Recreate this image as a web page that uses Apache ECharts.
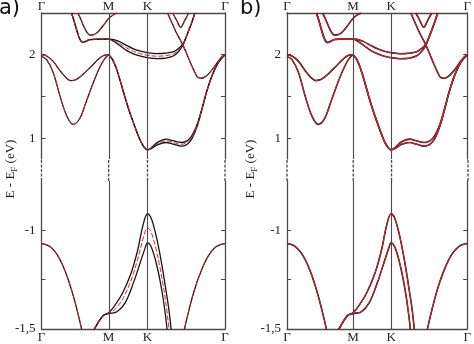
<!DOCTYPE html>
<html><head><meta charset="utf-8">
<script src="https://cdn.jsdelivr.net/npm/echarts@6/dist/echarts.min.js"></script>
<style>html,body{margin:0;padding:0;background:#fff}#c{width:474px;height:344px}</style>
</head><body><div id="c"></div>
<script>
// k-path positions and labels
const kTicks = [0, 0.577, 0.911, 1.577];
const kLabels = ['Γ', 'M', 'K', 'Γ'];
// energy ticks
const yTicksTop = [1, 1.5, 2, 2.5];
const yLabelsTop = [1, 2];
const yTicksBot = [-1.5, -1.25, -1];
const yLabelsBot = [-1.5, -1];

// ---- conduction bands (upper segment) [k, E] ----
const bandA = [[0,2.0],[0.044,1.985],[0.101,1.92],[0.158,1.81],[0.215,1.72],[0.252,1.69],[0.301,1.705],[0.357,1.765],[0.429,1.862],[0.5,1.96],[0.543,1.995],[0.577,2.0]];
const bandB = [[0,1.98],[0.044,1.941],[0.101,1.785],[0.158,1.509],[0.215,1.274],[0.272,1.165],[0.329,1.235],[0.381,1.424],[0.44,1.647],[0.5,1.847],[0.543,1.953],[0.577,2.0]];
const bowlMid = [[0.577,2.0],[0.611,1.941],[0.646,1.824],[0.68,1.671],[0.714,1.506],[0.748,1.353],[0.783,1.212],[0.817,1.082],[0.851,0.965],[0.881,0.894],[0.911,0.859],[0.943,0.879],[1.0,0.938],[1.073,0.968],[1.13,0.949],[1.202,0.926],[1.274,0.976],[1.332,1.133],[1.375,1.329],[1.421,1.565],[1.473,1.776],[1.525,1.918],[1.577,2.0]];
const bowlUp = [[0.577,2.0],[0.611,1.941],[0.646,1.824],[0.68,1.671],[0.714,1.506],[0.748,1.353],[0.783,1.212],[0.817,1.082],[0.851,0.965],[0.881,0.894],[0.911,0.859],[0.943,0.884],[1.0,0.953],[1.073,0.988],[1.13,0.969],[1.202,0.948],[1.274,0.996],[1.332,1.145],[1.375,1.334],[1.421,1.565],[1.473,1.776],[1.525,1.918],[1.577,2.0]];
const bowlLo = [[0.577,2.0],[0.611,1.941],[0.646,1.824],[0.68,1.671],[0.714,1.506],[0.748,1.353],[0.783,1.212],[0.817,1.082],[0.851,0.965],[0.881,0.894],[0.911,0.859],[0.943,0.874],[1.0,0.923],[1.073,0.948],[1.13,0.929],[1.202,0.904],[1.274,0.956],[1.332,1.121],[1.375,1.324],[1.421,1.565],[1.473,1.776],[1.525,1.918],[1.577,2.0]];
const flatMid = [[0.258,2.5],[0.278,2.412],[0.303,2.294],[0.329,2.188],[0.355,2.147],[0.38,2.159],[0.415,2.182],[0.5,2.188],[0.577,2.188],[0.611,2.176],[0.671,2.135],[0.731,2.082],[0.791,2.041],[0.851,2.012],[0.911,1.994],[0.989,1.982],[1.067,1.988],[1.136,2.012],[1.179,2.059],[1.214,2.118],[1.24,2.2],[1.266,2.294],[1.292,2.388],[1.318,2.5]];
const flatUp = [[0.258,2.5],[0.278,2.412],[0.303,2.294],[0.329,2.188],[0.355,2.147],[0.38,2.159],[0.415,2.182],[0.5,2.188],[0.577,2.188],[0.611,2.184],[0.671,2.157],[0.731,2.112],[0.791,2.071],[0.851,2.042],[0.911,2.024],[0.989,2.012],[1.067,2.018],[1.136,2.037],[1.179,2.076],[1.214,2.126],[1.24,2.2],[1.266,2.294],[1.292,2.388],[1.318,2.5]];
const flatLo = [[0.258,2.5],[0.278,2.412],[0.303,2.294],[0.329,2.188],[0.355,2.147],[0.38,2.159],[0.415,2.182],[0.5,2.188],[0.577,2.188],[0.611,2.168],[0.671,2.113],[0.731,2.052],[0.791,2.011],[0.851,1.982],[0.911,1.964],[0.989,1.952],[1.067,1.958],[1.136,1.987],[1.179,2.042],[1.214,2.11],[1.24,2.2],[1.266,2.294],[1.292,2.388],[1.318,2.5]];
const bandP2 = [[0.312,2.498],[0.338,2.424],[0.363,2.341],[0.389,2.271],[0.415,2.235],[0.449,2.241],[0.483,2.271],[0.526,2.341],[0.577,2.435],[0.603,2.465],[0.646,2.5]];
const bandC = [[1.084,2.5],[1.119,2.388],[1.153,2.282],[1.188,2.188],[1.214,2.118],[1.248,2.012],[1.283,1.894],[1.318,1.788],[1.343,1.729],[1.378,1.718],[1.413,1.741],[1.447,1.788],[1.482,1.847],[1.517,1.918],[1.551,1.976],[1.577,2.0]];
const bandV = [[1.127,2.5],[1.162,2.412],[1.196,2.329],[1.231,2.412],[1.266,2.5]];

// ---- valence bands (lower segment) ----
const valGL = [[0,-1.067],[0.038,-1.072],[0.073,-1.082],[0.115,-1.107],[0.158,-1.147],[0.201,-1.203],[0.243,-1.273],[0.286,-1.359],[0.329,-1.46],[0.346,-1.505]];
const valGR = [[1.577,-1.067],[1.538,-1.072],[1.503,-1.082],[1.46,-1.107],[1.417,-1.147],[1.374,-1.203],[1.33,-1.273],[1.287,-1.359],[1.244,-1.46],[1.227,-1.505]];
const valKUp = [[0.449,-1.505],[0.474,-1.48],[0.5,-1.455],[0.534,-1.43],[0.577,-1.418],[0.628,-1.383],[0.699,-1.315],[0.771,-1.215],[0.828,-1.097],[0.87,-0.98],[0.911,-0.916],[0.937,-0.931],[0.963,-0.976],[0.989,-1.037],[1.015,-1.112],[1.041,-1.198],[1.067,-1.294],[1.093,-1.394],[1.115,-1.505]];
const valKLo = [[0.449,-1.505],[0.474,-1.48],[0.5,-1.455],[0.534,-1.43],[0.577,-1.422],[0.649,-1.413],[0.72,-1.366],[0.791,-1.265],[0.848,-1.164],[0.891,-1.089],[0.911,-1.063],[0.937,-1.077],[0.963,-1.117],[0.989,-1.173],[1.015,-1.243],[1.041,-1.329],[1.063,-1.419],[1.08,-1.505]];
const valKMid = [[0.449,-1.505],[0.474,-1.48],[0.5,-1.455],[0.534,-1.43],[0.577,-1.42],[0.636,-1.398],[0.705,-1.34],[0.778,-1.24],[0.834,-1.131],[0.877,-1.034],[0.911,-0.988],[0.937,-1.002],[0.963,-1.047],[0.989,-1.107],[1.015,-1.178],[1.041,-1.263],[1.067,-1.359],[1.097,-1.505]];

const blackTop = [bandA, bandB, bowlUp, bowlLo, flatUp, flatLo, bandP2, bandC, bandV];
const redTopA = [bandA, bandB, bowlMid, flatMid, bandP2, bandC, bandV];
const blackBot = [valGL, valGR, valKUp, valKLo];
const redBotA = [valGL, valGR, valKMid];

const FRAME = '#4a4a4a';
const BLACK = '#151515';
const RED = '#e3202b';
const SERIF = 'Liberation Serif';

const panels = [
  {left: 41.5, width: 183.5, tag: 'a)', tagX: -1, nameX: 11},
  {left: 287, width: 181, tag: 'b)', tagX: 240, nameX: 251}
];
const tops = [{top: 10, height: 149}, {top: 159, height: 22}, {top: 181, height: 149}];

const grid = [], xAxis = [], yAxis = [], series = [], graphic = [];
function nearestLabel(v){let b=0;for(let i=1;i<kTicks.length;i++){if(Math.abs(kTicks[i]-v)<Math.abs(kTicks[b]-v))b=i;}return kLabels[b];}

panels.forEach((p, pi) => {
  tops.forEach((t, ti) => {
    const g = grid.length;
    grid.push({left: p.left, width: p.width, top: t.top, height: t.height, containLabel: false});
    const isMid = ti === 1;
    const xa = {gridIndex: g, type: 'value', min: 0, max: 1.577, splitLine: {show: false}, axisTick: {show: false}};
    if (ti === 0) {
      Object.assign(xa, {position: 'top', axisLine: {show: true, lineStyle: {color: FRAME, width: 1.3}},
        axisLabel: {customValues: kTicks, formatter: nearestLabel, fontFamily: SERIF, fontSize: 13, color: '#222', margin: 0}});
    } else if (ti === 2) {
      Object.assign(xa, {position: 'bottom', axisLine: {show: true, lineStyle: {color: FRAME, width: 1.3}},
        axisLabel: {customValues: kTicks, formatter: nearestLabel, fontFamily: SERIF, fontSize: 13, color: '#222', margin: 2}});
    } else {
      Object.assign(xa, {axisLine: {show: false}, axisLabel: {show: false}});
    }
    xAxis.push(xa);
    let ymin, ymax, ticks, labels;
    if (ti === 0) { ymin = 0.75; ymax = 2.5; ticks = yTicksTop; labels = yLabelsTop; }
    else if (ti === 2) { ymin = -1.5; ymax = -0.75; ticks = yTicksBot; labels = yLabelsBot; }
    else { ymin = 0; ymax = 1; ticks = []; labels = []; }
    ['left', 'right'].forEach(pos => {
      yAxis.push({gridIndex: g, type: 'value', min: ymin, max: ymax, position: pos, splitLine: {show: false},
        axisLine: {show: !isMid, onZero: false, lineStyle: {color: FRAME, width: 1.3}},
        axisTick: {show: !isMid, inside: true, length: 4, customValues: ticks, lineStyle: {color: FRAME, width: 1}},
        axisLabel: {show: pos === 'left' && !isMid, customValues: labels, margin: 6, fontFamily: SERIF, fontSize: 13, color: '#222',
          formatter: v => String(v).replace('.', ',')}});
    });
    const yi = 2 * g;
    if (isMid) {
      // dashed continuation of every vertical line through the axis break
      kTicks.forEach(k => series.push({type: 'line', xAxisIndex: g, yAxisIndex: yi, data: [[k, 0], [k, 1]], symbol: 'none',
        clip: false, silent: true, animation: false, lineStyle: {color: FRAME, width: 1.3, type: [3, 1.5]}}));
      return;
    }
    // vertical high-symmetry lines M and K
    series.push({type: 'line', xAxisIndex: g, yAxisIndex: yi, data: [], silent: true, animation: false, clip: false,
      markLine: {silent: true, symbol: ['none', 'none'], label: {show: false}, animation: false,
        lineStyle: {color: FRAME, width: 1.1, type: 'solid'},
        data: [{xAxis: kTicks[1]}, {xAxis: kTicks[2]}]}});
    const blacks = ti === 0 ? blackTop : blackBot;
    const reds = pi === 0 ? (ti === 0 ? redTopA : redBotA) : blacks;
    blacks.forEach(d => series.push({type: 'line', xAxisIndex: g, yAxisIndex: yi, data: d, symbol: 'none', smooth: 0.35,
      lineStyle: {color: BLACK, width: pi === 0 ? 1.3 : 1.6}, silent: true, animation: false, z: 3}));
    reds.forEach(d => series.push({type: 'line', xAxisIndex: g, yAxisIndex: yi, data: d, symbol: 'none', smooth: 0.35,
      lineStyle: {color: RED, width: 1, type: pi === 0 ? [5, 2] : 'solid'}, silent: true, animation: false, z: 4}));
  });
  graphic.push({type: 'text', x: p.tagX, y: 9, style: {text: p.tag, font: '21px "DejaVu Sans"', fill: '#111', align: 'left', verticalAlign: 'middle'}});
  graphic.push({type: 'text', x: p.nameX, y: 169, rotation: Math.PI / 2,
    style: {text: '{a|E - E}{s|F}{a| (eV)}', align: 'center', verticalAlign: 'middle', fill: '#222',
      rich: {a: {fontFamily: SERIF, fontSize: 13, lineHeight: 16}, s: {fontFamily: SERIF, fontSize: 9, lineHeight: 16, verticalAlign: 'bottom', padding: [6, 0, 0, 0]}}}});
});

const chart = echarts.init(document.getElementById('c'), null, {renderer: 'canvas'});
chart.setOption({animation: false, backgroundColor: '#fff', grid, xAxis, yAxis, series, graphic});
</script></body></html>
